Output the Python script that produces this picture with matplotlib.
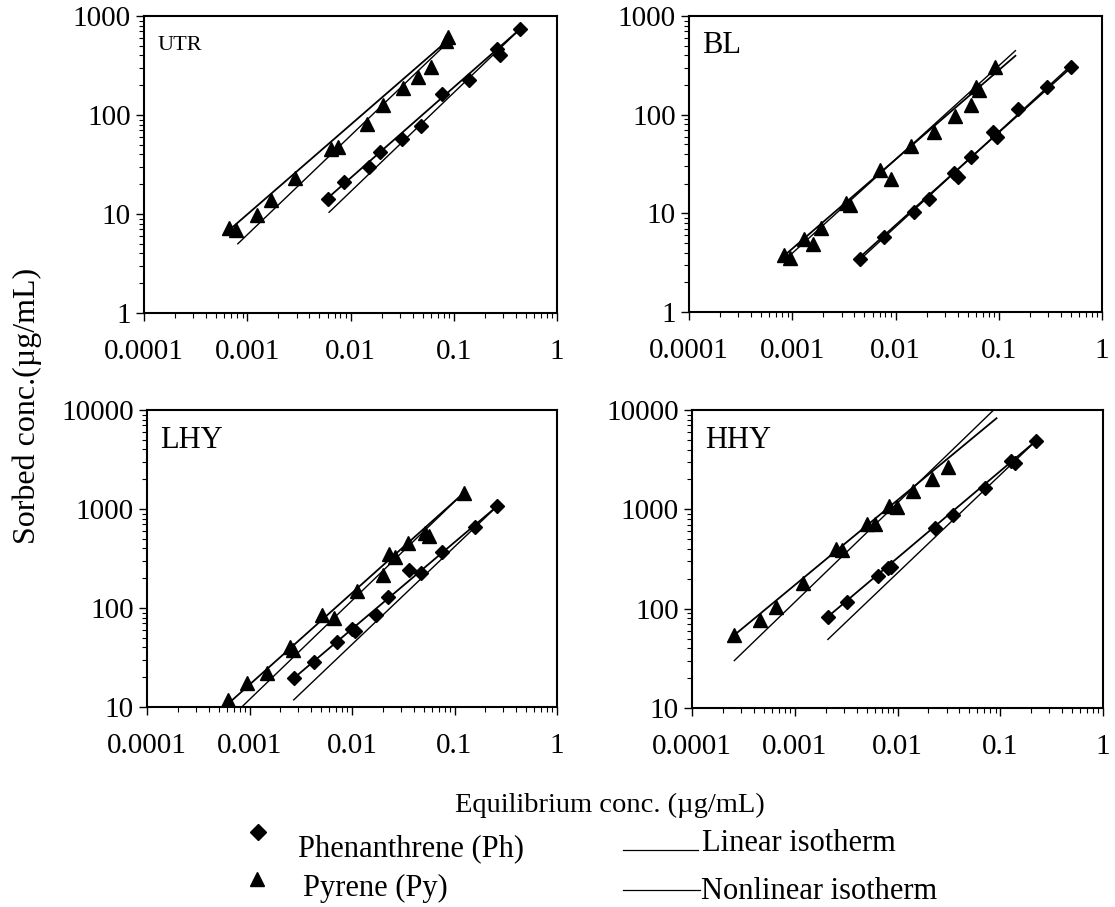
import matplotlib

matplotlib.use("Agg")
import matplotlib.pyplot as plt
from matplotlib import ticker
from matplotlib.lines import Line2D

plt.rcParams["font.family"] = ["Liberation Serif", "DejaVu Serif"]

W, H = 1115, 907

# --- data (x = equilibrium conc., y = sorbed conc.) ---
UTR_PY_X = [0.00066, 0.00078, 0.00125, 0.0017, 0.0029, 0.0065, 0.0075, 0.0144, 0.0205, 0.0325, 0.0454, 0.060, 0.085, 0.088]
UTR_PY_Y = [7.2, 6.9, 9.8, 13.8, 22.9, 45, 47, 82, 126, 186, 240, 307, 560, 610]
UTR_PH_X = [0.0060, 0.0087, 0.0152, 0.0193, 0.0313, 0.0482, 0.0764, 0.1406, 0.26, 0.28, 0.438]
UTR_PH_Y = [14.2, 21.2, 30, 42, 57, 78, 162, 226, 460, 400, 734]

BL_PY_X = [0.00083, 0.00095, 0.00129, 0.00159, 0.00191, 0.0033, 0.0036, 0.0070, 0.0091, 0.0140, 0.0238,
           0.038, 0.054, 0.060, 0.064, 0.0925]
BL_PY_Y = [3.8, 3.5, 5.45, 4.85, 7.15, 12.8, 12.2, 27.5, 22.2, 48.4, 67, 97.5, 125, 190, 178, 306]
BL_PH_X = [0.0045, 0.0078, 0.0150, 0.0210, 0.0370, 0.0400, 0.054, 0.088, 0.097, 0.152, 0.292, 0.505]
BL_PH_Y = [3.42, 5.71, 10.4, 13.9, 25.5, 23.5, 36.9, 66, 60, 113, 189, 306]

LHY_PY_X = [0.00062, 0.00095, 0.00147, 0.00250, 0.00268, 0.00506, 0.00671, 0.0111, 0.0202, 0.0231, 0.0263,
            0.0355, 0.0515, 0.057, 0.124]
LHY_PY_Y = [11.8, 17.4, 22.3, 40, 38, 85, 78.7, 148.6, 215, 351, 330, 450, 568, 533, 1462]
LHY_PH_X = [0.00272, 0.00426, 0.00719, 0.0100, 0.0106, 0.017, 0.0226, 0.0362, 0.0471, 0.075, 0.158, 0.262]
LHY_PH_Y = [19.5, 28.7, 45.7, 61, 59, 85, 130, 242, 224, 365, 653, 1072]

HHY_PY_X = [0.000257, 0.000459, 0.000653, 0.00119, 0.0025, 0.0029, 0.0051, 0.0060, 0.0082, 0.0099, 0.01426,
            0.0215, 0.0313]
HHY_PY_Y = [54.3, 77, 103, 180, 400, 390, 720, 705, 1070, 1060, 1543, 2023, 2690]
HHY_PH_X = [0.00209, 0.0032, 0.00641, 0.0080, 0.0087, 0.0233, 0.0347, 0.0711, 0.128, 0.140, 0.223]
HHY_PH_Y = [83, 117, 215, 255, 265, 646, 879, 1657, 3100, 2950, 4893]

# isotherm lines (x ends, y ends)
UTR_PY_LIN = ([0.00081, 0.093], [5.0, 575])
UTR_PY_NL = ([0.00066, 0.088], [6.8, 570])
UTR_PH_LIN = ([0.0062, 0.44], [10.4, 740])
UTR_PH_NL = ([0.0058, 0.44], [14.0, 740])

BL_PY_LIN = ([0.00083, 0.145], [3.3, 445])
BL_PY_NL = ([0.00083, 0.145], [3.7, 395])
BL_PH_LIN = ([0.0044, 0.50], [3.3, 315])
BL_PH_NL = ([0.0044, 0.50], [3.5, 300])

LHY_PY_LIN = ([0.00084, 0.124], [10.0, 1470])
LHY_PY_NL = ([0.00062, 0.124], [10.8, 1460])
LHY_PH_LIN = ([0.0027, 0.262], [11.8, 1072])
LHY_PH_NL = ([0.0027, 0.262], [19.5, 1072])

HHY_PY_LIN = ([0.000258, 0.088], [30, 10200])
HHY_PY_NL = ([0.000257, 0.092], [54, 8260])
HHY_PH_LIN = ([0.0021, 0.223], [49, 4900])
HHY_PH_NL = ([0.0021, 0.223], [83, 4893])

PANELS = [
    # name, label size, ylim, pixel box (left, top, right, bottom), data
    ("UTR", 16, (1, 1000), (144, 16, 557, 313),
     (UTR_PY_X, UTR_PY_Y, UTR_PH_X, UTR_PH_Y), (UTR_PY_LIN, UTR_PY_NL, UTR_PH_LIN, UTR_PH_NL)),
    ("BL", 22, (1, 1000), (689, 16, 1102, 312),
     (BL_PY_X, BL_PY_Y, BL_PH_X, BL_PH_Y), (BL_PY_LIN, BL_PY_NL, BL_PH_LIN, BL_PH_NL)),
    ("LHY", 22, (10, 10000), (147, 410, 557, 707),
     (LHY_PY_X, LHY_PY_Y, LHY_PH_X, LHY_PH_Y), (LHY_PY_LIN, LHY_PY_NL, LHY_PH_LIN, LHY_PH_NL)),
    ("HHY", 22, (10, 10000), (692, 410, 1103, 708),
     (HHY_PY_X, HHY_PY_Y, HHY_PH_X, HHY_PH_Y), (HHY_PY_LIN, HHY_PY_NL, HHY_PH_LIN, HHY_PH_NL)),
]


def fx(px):
    return px / W


def fy(py):
    return 1 - py / H


def style_axis(ax, ylim):
    ax.set_xscale("log")
    ax.set_yscale("log")
    ax.set_xlim(1e-4, 1)
    ax.set_ylim(*ylim)
    fmt = ticker.FuncFormatter(lambda v, _: f"{v:g}")
    for axis in (ax.xaxis, ax.yaxis):
        axis.set_major_locator(ticker.LogLocator(base=10, numticks=10))
        axis.set_minor_locator(ticker.LogLocator(base=10, subs=range(2, 10), numticks=40))
        axis.set_major_formatter(fmt)
        axis.set_minor_formatter(ticker.NullFormatter())
    ax.tick_params(which="major", direction="out", length=5.5, width=1.0, labelsize=21)
    ax.tick_params(which="minor", direction="out", length=3.5, width=0.8)
    ax.tick_params(axis="x", which="major", pad=13)
    ax.tick_params(axis="y", which="major", pad=4)
    for spine in ax.spines.values():
        spine.set_linewidth(1.5)


fig = plt.figure(figsize=(W / 100, H / 100), dpi=100)

for name, lab_size, ylim, (l, t, r, b), (py_x, py_y, ph_x, ph_y), (py_lin, py_nl, ph_lin, ph_nl) in PANELS:
    ax = fig.add_axes([fx(l), fy(b), (r - l) / W, (b - t) / H])
    for line, lw in [(py_lin, 1.0), (py_nl, 1.3), (ph_lin, 1.0), (ph_nl, 1.3)]:
        ax.plot(line[0], line[1], color="black", linewidth=lw, zorder=2)
    ax.plot(py_x, py_y, linestyle="none", marker="^", markersize=10.5, color="black", zorder=3)
    ax.plot(ph_x, ph_y, linestyle="none", marker="D", markersize=7.2, color="black", zorder=3)
    style_axis(ax, ylim)
    base = 50 if name == "UTR" else (53 if name == "BL" else 448)
    ax.text(fx(l + 13), fy(base), name, transform=fig.transFigure, fontsize=lab_size,
            ha="left", va="baseline")

fig.text(fx(27), fy(406), "Sorbed conc.(\u00b5g/mL)", rotation=90, fontsize=23,
         ha="center", va="center")
fig.text(fx(610), fy(812), "Equilibrium conc. (\u00b5g/mL)", fontsize=20.5, ha="center", va="baseline")

# legend
fig.add_artist(Line2D([fx(258)], [fy(832)], marker="D", markersize=8, color="black", linestyle="none"))
fig.add_artist(Line2D([fx(257)], [fy(879)], marker="^", markersize=10, color="black", linestyle="none"))
fig.text(fx(298), fy(856), "Phenanthrene (Ph)", fontsize=22, ha="left", va="baseline")
fig.text(fx(303), fy(896), "Pyrene (Py)", fontsize=22, ha="left", va="baseline")
fig.add_artist(Line2D([fx(623), fx(698)], [fy(850), fy(850)], color="black", linewidth=0.9))
fig.add_artist(Line2D([fx(623), fx(700)], [fy(890), fy(890)], color="black", linewidth=0.9))
fig.text(fx(702), fy(851), "Linear isotherm", fontsize=22, ha="left", va="baseline")
fig.text(fx(701), fy(899), "Nonlinear isotherm", fontsize=22, ha="left", va="baseline")

fig.savefig("out.png", dpi=100)
